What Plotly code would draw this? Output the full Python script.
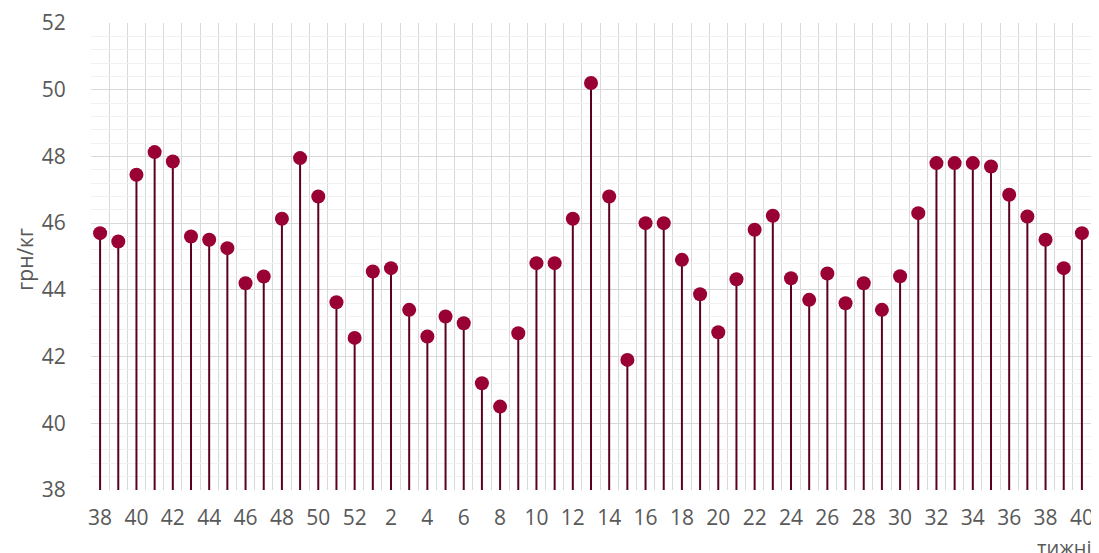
import plotly.graph_objects as go

weeks = [38, 39, 40, 41, 42, 43, 44, 45, 46, 47, 48, 49, 50, 51, 52,
         1, 2, 3, 4, 5, 6, 7, 8, 9, 10, 11, 12, 13, 14, 15, 16, 17, 18, 19, 20,
         21, 22, 23, 24, 25, 26, 27, 28, 29, 30, 31, 32, 33, 34, 35, 36, 37, 38, 39, 40]
prices = [45.70, 45.45, 47.45, 48.13, 47.85, 45.60, 45.50, 45.25, 44.20, 44.40,
          46.13, 47.95, 46.80, 43.63, 42.56,
          44.55, 44.65, 43.40, 42.60, 43.20, 43.00, 41.20, 40.50, 42.70, 44.80,
          44.80, 46.13, 50.20, 46.80, 41.90, 46.00, 46.00, 44.90, 43.87, 42.73,
          44.32, 45.80, 46.22, 44.35, 43.70, 44.49, 43.60, 44.20, 43.40, 44.41,
          46.30, 47.80, 47.80, 47.80, 47.70, 46.85, 46.20, 45.50, 44.65, 45.70]
y_base = 38
y_max = 52
y_title = "грн/кг"
x_title = "тижні"

pos = list(range(len(weeks)))

stem_x, stem_y = [], []
for p, v in zip(pos, prices):
    stem_x += [p, p, None]
    stem_y += [y_base, v, None]

fig = go.Figure()
fig.add_trace(go.Scatter(x=stem_x, y=stem_y, mode="lines",
                         line=dict(color="#5c0022", width=2), hoverinfo="skip"))
fig.add_trace(go.Scatter(x=pos, y=prices, mode="markers",
                         marker=dict(color="#990033", size=14, line=dict(width=0))))

font_fam = "Open Sans, Liberation Sans, sans-serif"
fs = 21
fig.update_layout(
    width=1107, height=561,
    margin=dict(l=83, r=24, t=15, b=79, autoexpand=False),
    paper_bgcolor="white", plot_bgcolor="white",
    showlegend=False,
    font=dict(family=font_fam, size=fs, color="#595959"),
    xaxis=dict(
        range=[-0.5, len(weeks) - 0.5],
        tickvals=pos[::2], ticktext=[str(w) for w in weeks[::2]],
        showgrid=False, zeroline=False, automargin=False,
        ticks="outside", ticklen=9, tickcolor="rgba(0,0,0,0)",
        tickangle=0,
        showline=False,
        minor=dict(tickvals=[p - 0.5 for p in pos] + [pos[-1] + 0.5],
                   showgrid=True, gridcolor="#d9d9d9", gridwidth=1.3, ticks=""),
    ),
    yaxis=dict(
        range=[y_base, y_max], dtick=2, tick0=y_base,
        showgrid=True, gridcolor="#d9d9d9", gridwidth=1.3,
        zeroline=False, showline=False, automargin=False,
        ticks="outside", ticklen=20, tickcolor="rgba(0,0,0,0)",
        minor=dict(dtick=0.4, tick0=y_base, showgrid=True, gridcolor="#f0f0f0",
                   gridwidth=1, ticks=""),
    ),
    annotations=[
        dict(text=y_title, xref="paper", yref="paper", x=0, y=0.493,
             xshift=-66, textangle=-90, showarrow=False,
             xanchor="center", yanchor="middle",
             font=dict(size=fs, color="#595959", family=font_fam)),
        dict(text=x_title, xref="paper", yref="paper", x=1, y=0,
             xshift=-56, yshift=-42, showarrow=False,
             xanchor="left", yanchor="top",
             font=dict(size=20, color="#595959", family=font_fam)),
    ],
)

fig.write_html("out.html")
